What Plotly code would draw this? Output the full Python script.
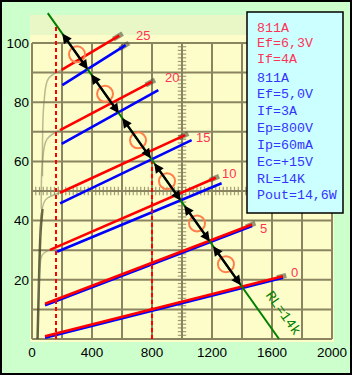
import numpy as np
import plotly.graph_objects as go

# ---------------- data ----------------
grid_labels = ["0", "5", "10", "15", "20", "25"]
# Ef = 6.3 V curves (red)
red_v = [[87, 1673], [87, 1467], [120, 1225], [187, 1020], [187, 798], [198, 582]]
red_i = [[0.9, 21.2], [11.9, 38.7], [30.1, 54.5], [49.4, 68.9], [70.6, 86.9], [90.9, 102.5]]
# Ef = 5.0 V curves (blue)
blue_v = [[87, 1673], [87, 1467], [167, 1264], [187, 1064], [198, 842], [202, 624]]
blue_i = [[0.4, 20.7], [11.4, 38.2], [29.5, 52.6], [45.8, 67.2], [65.9, 84.1], [85.8, 99.3]]
label_v = [1753, 1540, 1313, 1140, 933, 740]
label_i = [22.6, 37.5, 56.0, 68.2, 88.5, 102.7]

# knees of the original (scanned) curves
knee_v = [[37, 45, 57, 70], [45, 52, 70, 120], [55, 62, 90, 187], [62, 70, 100, 187], [70, 80, 110, 198]]
knee_i = [[0, 16.5, 36, 44], [14, 24, 28.5, 30.1], [34, 42, 47, 49.4], [44, 60, 67.5, 70.6], [55, 80, 88, 90.9]]

# load line RL = 14k
load_v = [105, 1647]
load_i = [110.1, 0.0]
swing_v = [187, 380, 587, 800, 1000, 1193, 1400]
circle_v = [300, 487, 707, 900, 1100, 1293]
dash_v = [160, 800]

x_ticks = [0, 400, 800, 1200, 1600, 2000]
y_ticks = [20, 40, 60, 80, 100]

info_red = ["811A", "Ef=6,3V", "If=4A"]
info_blue = ["811A", "Ef=5,0V", "If=3A", "Ep=800V", "Ip=60mA", "Ec=+15V", "RL=14K", "Pout=14,6W"]

# ---------------- layout geometry ----------------
W, H = 352, 375
ML, MR, MT, MB = 30, 14, 10, 33
X_RANGE = [-13.33, 2040]
Y_RANGE = [-1.01, 111.15]


def pxx(px):
    return (px - ML) / (W - ML - MR)


def pxy(py):
    return 1 - (py - MT) / (H - MT - MB)


RED = "#ff0000"
BLUE = "#0000ff"
TXT_RED = "#ff3355"
TXT_BLUE = "#3333ff"
GRIDC = "#8a8560"
MONO = "Liberation Mono, DejaVu Sans Mono"

fig = go.Figure()

shapes = []
# scanned paper
shapes.append(dict(type="rect", xref="x", yref="y", x0=-13, x1=2013, y0=-1.0, y1=102.7,
                   fillcolor="#fdfdc9", line=dict(width=0), layer="below"))
shapes.append(dict(type="rect", xref="x", yref="y", x0=-13, x1=2013, y0=102.7, y1=109.5,
                   fillcolor="#e9f7c6", line=dict(width=0), layer="below"))
for v in range(0, 2001, 200):
    shapes.append(dict(type="line", xref="x", yref="y", x0=v, x1=v, y0=0, y1=100,
                       line=dict(color=GRIDC, width=2), layer="below"))
for i in range(0, 101, 10):
    shapes.append(dict(type="line", xref="x", yref="y", x0=0, x1=2000, y0=i, y1=i,
                       line=dict(color=GRIDC, width=2), layer="below"))

# ruler ticks on the scanned sheet
rt_i = np.arange(0, 100.01, 1.25)
fig.add_trace(go.Scatter(x=[1000] * len(rt_i), y=rt_i, mode="markers",
                         marker=dict(symbol="line-ew", size=6, color="rgba(138,133,96,0.8)",
                                     line=dict(width=1.2, color="rgba(138,133,96,0.8)")),
                         hoverinfo="skip", showlegend=False))
rt_v = np.arange(0, 2000.1, 25)
fig.add_trace(go.Scatter(x=rt_v, y=[50] * len(rt_v), mode="markers",
                         marker=dict(symbol="line-ns", size=6, color="rgba(138,133,96,0.8)",
                                     line=dict(width=1.2, color="rgba(138,133,96,0.8)")),
                         hoverinfo="skip", showlegend=False))

# knees (faint original curves)
for k, (kv, ki) in enumerate(zip(knee_v, knee_i)):
    fig.add_trace(go.Scatter(x=kv, y=ki, mode="lines", line_shape="spline",
                             line=dict(color="rgba(70,70,40,0.85)" if k == 0 else "rgba(120,120,90,0.5)",
                                       width=2.5 if k == 0 else 1.5),
                             hoverinfo="skip", showlegend=False))

# gray end caps (original curve ends)
for rv, ri in zip(red_v, red_i):
    s = (ri[1] - ri[0]) / (rv[1] - rv[0])
    fig.add_trace(go.Scatter(x=[rv[1] - 40, rv[1] + 22], y=[ri[1] - 40 * s, ri[1] + 22 * s],
                             mode="lines", line=dict(color="rgba(80,80,60,0.6)", width=5),
                             hoverinfo="skip", showlegend=False))
bv, bi = blue_v[5], blue_i[5]
s = (bi[1] - bi[0]) / (bv[1] - bv[0])
fig.add_trace(go.Scatter(x=[bv[1] - 40, bv[1] + 22], y=[bi[1] - 40 * s, bi[1] + 22 * s],
                         mode="lines", line=dict(color="rgba(80,80,60,0.6)", width=5),
                         hoverinfo="skip", showlegend=False))

# blue then red curves
for bv, bi in zip(blue_v, blue_i):
    fig.add_trace(go.Scatter(x=bv, y=bi, mode="lines", line=dict(color=BLUE, width=2.6),
                             hoverinfo="skip", showlegend=False))
for rv, ri in zip(red_v, red_i):
    fig.add_trace(go.Scatter(x=rv, y=ri, mode="lines", line=dict(color=RED, width=2.6),
                             hoverinfo="skip", showlegend=False))

# red dashed verticals up to load line
for dv in dash_v:
    top = float(np.interp(dv, load_v, load_i))
    fig.add_trace(go.Scatter(x=[dv, dv], y=[0, top], mode="lines",
                             line=dict(color=RED, width=2, dash="4px,3px"),
                             hoverinfo="skip", showlegend=False))

# load line
fig.add_trace(go.Scatter(x=load_v, y=load_i, mode="lines", line=dict(color="#008000", width=2),
                         hoverinfo="skip", showlegend=False))

swing_i = np.interp(swing_v, load_v, load_i)
circle_i = np.interp(circle_v, load_v, load_i)

annotations = []
for k in range(len(swing_v) - 1):
    annotations.append(dict(x=swing_v[k + 1], y=float(swing_i[k + 1]), ax=swing_v[k], ay=float(swing_i[k]),
                            xref="x", yref="y", axref="x", ayref="y", text="", showarrow=True,
                            arrowhead=2, startarrowhead=2, arrowside="end+start",
                            arrowsize=0.8, startarrowsize=0.8, arrowwidth=2.4, arrowcolor="black",
                            standoff=2, startstandoff=2))

# orange circles
fig.add_trace(go.Scatter(x=circle_v, y=circle_i, mode="markers",
                         marker=dict(symbol="circle-open", size=16, color="#ff7f4a",
                                     line=dict(color="#ff7f4a", width=2)),
                         hoverinfo="skip", showlegend=False))

# curve labels
for lv, li, t in zip(label_v, label_i, grid_labels):
    annotations.append(dict(x=lv, y=li, xref="x", yref="y", text=t, showarrow=False,
                            font=dict(family="Liberation Sans, Arial", size=13, color=TXT_RED)))

# RL label
annotations.append(dict(x=1673, y=8.8, xref="x", yref="y", text="RL=14k", showarrow=False,
                        textangle=54.7, font=dict(family=MONO, size=14, color="#008000")))

# info box
shapes.append(dict(type="rect", xref="paper", yref="paper", x0=pxx(247), x1=pxx(343),
                   y0=pxy(213), y1=pxy(12), fillcolor="#ccffff", line=dict(color="black", width=1.5),
                   layer="above"))
for k, t in enumerate(info_red):
    annotations.append(dict(x=pxx(255), y=pxy(28 + 16 * k), xref="paper", yref="paper", text=t,
                            showarrow=False, xanchor="left", yanchor="middle",
                            font=dict(family=MONO, size=13.3, color=TXT_RED)))
for k, t in enumerate(info_blue):
    annotations.append(dict(x=pxx(255), y=pxy(78 + 16.85 * k), xref="paper", yref="paper", text=t,
                            showarrow=False, xanchor="left", yanchor="middle",
                            font=dict(family=MONO, size=13.3, color=TXT_BLUE)))

# outer black frame
shapes.append(dict(type="rect", xref="paper", yref="paper", x0=pxx(1), x1=pxx(351), y0=pxy(374),
                   y1=pxy(1), line=dict(color="black", width=2), fillcolor="rgba(0,0,0,0)", layer="above"))

fig.update_layout(
    width=W, height=H, margin=dict(l=ML, r=MR, t=MT, b=MB, pad=0, autoexpand=False),
    paper_bgcolor="#ccffcc", plot_bgcolor="#ccffcc",
    shapes=shapes, annotations=annotations, showlegend=False,
    xaxis=dict(range=X_RANGE, tickmode="array", tickvals=x_ticks, ticktext=[str(v) for v in x_ticks],
               showgrid=False, zeroline=False, showline=False, ticks="", fixedrange=True, automargin=False,
               tickfont=dict(family="Liberation Sans, Arial", size=13.5, color="black")),
    yaxis=dict(range=Y_RANGE, tickmode="array", tickvals=y_ticks, ticktext=[str(v) for v in y_ticks],
               showgrid=False, zeroline=False, showline=False, ticks="", fixedrange=True, automargin=False,
               tickfont=dict(family="Liberation Sans, Arial", size=13.5, color="black")),
)

fig.write_html("out.html")
